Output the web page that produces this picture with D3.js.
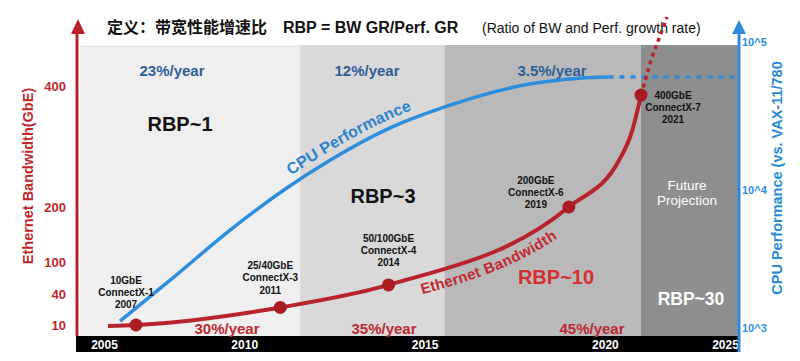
<!DOCTYPE html>
<html>
<head>
<meta charset="utf-8">
<script src="https://cdn.jsdelivr.net/npm/d3@7"></script>
<style>
body { margin: 0; background: #fff; }
svg { display: block; font-family: "Liberation Sans", Arial, "Noto Sans CJK SC", sans-serif; }
</style>
</head>
<body>
<svg id="chart" width="800" height="361"></svg>
<script>
// --- data ---
var yearTicks = [2005, 2010, 2015, 2020, 2025];
var bwTicks = [10, 40, 100, 200, 400];
var cpuTicks = [1e3, 1e4, 1e5];
var cpuTickLabels = ["10^3", "10^4", "10^5"];
var eraEdges = [2011.55, 2015.55, 2021];

var nicYears = [2007, 2011, 2014, 2019, 2021];
var nicBw = [10, 27, 57, 200, 385];
var nicNames = ["10GbE", "25/40GbE", "50/100GbE", "200GbE", "400GbE"];
var nicCards = ["ConnectX-1", "ConnectX-3", "ConnectX-4", "ConnectX-6", "ConnectX-7"];

var bwYears = [2005.25, 2007, 2011, 2014, 2019, 2020.4, 2020.75, 2021];
var bwVals = [9, 10, 27, 57, 200, 278, 325, 385];
var bwProjYears = [2021, 2021.48, 2022.24];
var bwProjVals = [385, 443, 514];

var cpuYears = [2006.0, 2008.1, 2009.6, 2011.1, 2012.4, 2014.0, 2015.5, 2017.9, 2019.3, 2020.1];
var cpuPerf = [1120, 2400, 5100, 10000, 16000, 26000, 36000, 52000, 57000, 58000];
var cpuProjYears = [2020.1, 2025.57];
var cpuProjPerf = [58000, 58000];

var cpuRates = ["23%/year", "12%/year", "3.5%/year"];
var bwRates = ["30%/year", "35%/year", "45%/year"];
var rbpLabels = ["RBP~1", "RBP~3", "RBP~10", "RBP~30"];

// --- layout ---
var panel = { left: 80, right: 738, top: 45, bottom: 336 };
var bandFills = ["#efefef", "#d9d9d9", "#b9b9b9", "#8e8e8e"];
var red = "#b8232b", blue = "#2c8ddc";
var cpuRateX = [172, 367, 552];
var bwRateX = [227, 384, 592];
var rbpPos = [[180, 131, 20, "#111"], [383, 203, 20, "#111"], [556, 284, 20, "#d3302e"], [691, 305, 17.5, "#fff"]];
var noteOffset = [[-10, -45], [-10, -42], [0, -47], [-33, -27], [32, 0]];

var svg = d3.select("#chart");

var x = d3.scaleLinear().domain([2005, 2007, 2021, 2025]).range([104, 136, 641, 725]);
var yBw = d3.scaleLinear().domain(bwTicks).range([325, 294, 262, 207, 86]);
var yCpu = d3.scaleLog().domain(cpuTicks).range([328, 190, 42]);

// background eras
var edges = [panel.left].concat(eraEdges.map(x)).concat([panel.right]);
svg.append("g").selectAll("rect")
    .data(d3.pairs(edges))
    .enter().append("rect")
    .attr("x", function(d) { return d[0]; })
    .attr("y", panel.top)
    .attr("width", function(d) { return d[1] - d[0]; })
    .attr("height", panel.bottom - panel.top)
    .attr("fill", function(d, i) { return bandFills[i]; });

// black year bar
svg.append("rect")
    .attr("x", 76).attr("y", panel.bottom)
    .attr("width", 663).attr("height", 16)
    .attr("fill", "#000");

var xAxis = svg.append("g")
    .attr("transform", "translate(0," + panel.bottom + ")")
    .call(d3.axisBottom(x).tickValues(yearTicks).tickFormat(d3.format("d")).tickSize(0).tickPadding(4));
xAxis.select(".domain").remove();
xAxis.selectAll("text")
    .attr("fill", "#fff")
    .style("font-size", "12px")
    .style("font-weight", "bold");

// title
svg.append("text").attr("x", 107).attr("y", 33)
    .style("font-family", "'Noto Sans CJK SC', sans-serif")
    .style("font-size", "16px").style("font-weight", "bold").attr("fill", "#111")
    .text("定义：带宽性能增速比");
svg.append("text").attr("x", 283).attr("y", 33)
    .style("font-size", "16px").style("font-weight", "bold").attr("fill", "#111")
    .text("RBP = BW GR/Perf. GR");
svg.append("text").attr("x", 482).attr("y", 33)
    .style("font-size", "14px").attr("fill", "#111")
    .text("(Ratio of BW and Perf. growth rate)");

// growth rate labels
svg.append("g").selectAll("text")
    .data(cpuRates).enter().append("text")
    .attr("x", function(d, i) { return cpuRateX[i]; })
    .attr("y", 76)
    .attr("text-anchor", "middle")
    .attr("fill", "#2b5f96")
    .style("font-size", "15px").style("font-weight", "bold")
    .text(function(d) { return d; });

svg.append("g").selectAll("text")
    .data(bwRates).enter().append("text")
    .attr("x", function(d, i) { return bwRateX[i]; })
    .attr("y", 334)
    .attr("text-anchor", "middle")
    .attr("fill", "#bd2a31")
    .style("font-size", "15px").style("font-weight", "bold")
    .text(function(d) { return d; });

// RBP labels
svg.append("g").selectAll("text")
    .data(rbpLabels).enter().append("text")
    .attr("x", function(d, i) { return rbpPos[i][0]; })
    .attr("y", function(d, i) { return rbpPos[i][1]; })
    .attr("text-anchor", "middle")
    .attr("fill", function(d, i) { return rbpPos[i][3]; })
    .style("font-size", function(d, i) { return rbpPos[i][2] + "px"; })
    .style("font-weight", "bold")
    .text(function(d) { return d; });

svg.append("text").attr("x", 687).attr("y", 190)
    .attr("text-anchor", "middle").attr("fill", "#fff")
    .style("font-size", "13.5px")
    .selectAll("tspan").data(["Future", "Projection"]).enter().append("tspan")
    .attr("x", 687).attr("dy", function(d, i) { return i ? 14.5 : 0; })
    .text(function(d) { return d; });

// curves
var bwLine = d3.line()
    .x(function(d) { return x(d[0]); })
    .y(function(d) { return yBw(d[1]); })
    .curve(d3.curveMonotoneX);
var cpuLine = d3.line()
    .x(function(d) { return x(d[0]); })
    .y(function(d) { return yCpu(d[1]); })
    .curve(d3.curveMonotoneX);

svg.append("path")
    .attr("id", "cpuPath")
    .attr("d", cpuLine(d3.zip(cpuYears, cpuPerf)))
    .attr("fill", "none").attr("stroke", blue).attr("stroke-width", 3.5);
svg.append("path")
    .attr("d", cpuLine(d3.zip(cpuProjYears, cpuProjPerf)))
    .attr("fill", "none").attr("stroke", blue).attr("stroke-width", 3.5)
    .attr("stroke-dasharray", "5,6");

svg.append("path")
    .attr("id", "bwPath")
    .attr("d", bwLine(d3.zip(bwYears, bwVals)))
    .attr("fill", "none").attr("stroke", red).attr("stroke-width", 4);
svg.append("path")
    .attr("d", d3.line()
        .x(function(d) { return x(d[0]); })
        .y(function(d) { return yBw(d[1]); })(d3.zip(bwProjYears, bwProjVals)))
    .attr("fill", "none").attr("stroke", red).attr("stroke-width", 3.5)
    .attr("stroke-dasharray", "4,4");

svg.append("text")
    .attr("dy", -8)
    .attr("fill", "#2a82cf")
    .style("font-size", "16px").style("font-weight", "bold")
    .append("textPath")
    .attr("href", "#cpuPath")
    .attr("startOffset", 224)
    .text("CPU Performance");

svg.append("text")
    .attr("dy", 18)
    .attr("fill", "#c22a31")
    .style("font-size", "15px").style("font-weight", "bold")
    .append("textPath")
    .attr("href", "#bwPath")
    .attr("startOffset", 314)
    .text("Ethernet Bandwidth");

// NIC generations
svg.append("g").selectAll("circle")
    .data(nicYears).enter().append("circle")
    .attr("cx", function(d) { return x(d); })
    .attr("cy", function(d, i) { return yBw(nicBw[i]); })
    .attr("r", 6.5)
    .attr("fill", "#a81c22");

var notes = svg.append("g").selectAll("text")
    .data(nicYears).enter().append("text")
    .attr("text-anchor", "middle")
    .attr("fill", "#111")
    .style("font-size", "10px").style("font-weight", "bold")
    .attr("transform", function(d, i) {
        return "translate(" + (x(d) + noteOffset[i][0]) + "," + (yBw(nicBw[i]) + noteOffset[i][1] + 3.6) + ")";
    });
notes.selectAll("tspan")
    .data(function(d, i) { return [nicNames[i], nicCards[i], String(d)]; })
    .enter().append("tspan")
    .attr("x", 0)
    .attr("dy", function(d, i) { return i ? 12.4 : 0; })
    .text(function(d) { return d; });

// left axis (bandwidth)
svg.append("line").attr("x1", 77).attr("x2", 77).attr("y1", 336).attr("y2", 30)
    .attr("stroke", red).attr("stroke-width", 3);
svg.append("path").attr("d", "M78,19L71,34L85,34Z").attr("fill", red);
var yAxisL = svg.append("g")
    .attr("transform", "translate(77,0)")
    .call(d3.axisLeft(yBw).tickValues(bwTicks).tickSize(0).tickPadding(11));
yAxisL.select(".domain").remove();
yAxisL.selectAll("text")
    .attr("fill", "#c0272d")
    .style("font-size", "13px").style("font-weight", "bold");

svg.append("text")
    .attr("transform", "translate(33,176) rotate(-90)")
    .attr("text-anchor", "middle")
    .attr("fill", "#c0272d")
    .style("font-size", "14.5px").style("font-weight", "bold")
    .text("Ethernet Bandwidth(GbE)");

// right axis (CPU)
svg.append("line").attr("x1", 739).attr("x2", 739).attr("y1", 352).attr("y2", 30)
    .attr("stroke", blue).attr("stroke-width", 3);
svg.append("path").attr("d", "M739,20L732,34L746,34Z").attr("fill", blue);
var yAxisR = svg.append("g")
    .attr("transform", "translate(739,0)")
    .call(d3.axisRight(yCpu).tickValues(cpuTicks)
        .tickFormat(function(d, i) { return cpuTickLabels[i]; })
        .tickSize(0).tickPadding(3));
yAxisR.select(".domain").remove();
yAxisR.selectAll("text")
    .attr("fill", blue)
    .style("font-size", "11px").style("font-weight", "bold");

svg.append("text")
    .attr("transform", "translate(782,178) rotate(-90)")
    .attr("text-anchor", "middle")
    .attr("fill", "#2a8ad8")
    .style("font-size", "14.5px").style("font-weight", "bold")
    .text("CPU Performance (vs. VAX-11/780");
</script>
</body>
</html>
